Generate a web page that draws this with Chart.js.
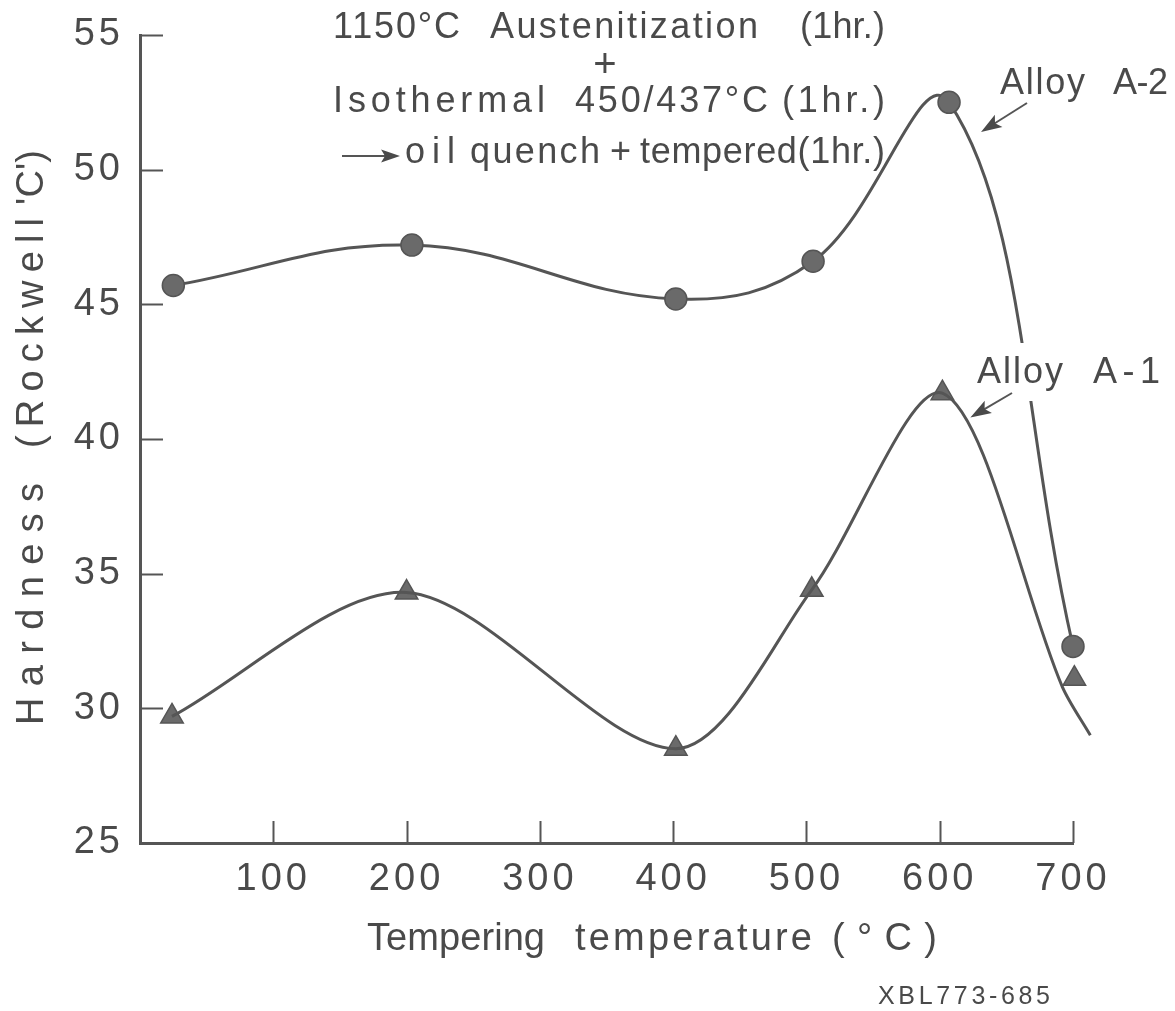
<!DOCTYPE html>
<html>
<head>
<meta charset="utf-8">
<title>Hardness vs tempering temperature</title>
<script src="https://cdn.jsdelivr.net/npm/chart.js@4.4.1/dist/chart.umd.min.js"></script>
<style>
  html, body { margin: 0; padding: 0; background: #fff; }
</style>
</head>
<body>
<canvas id="hardnessChart" width="1175" height="1011"></canvas>
<script>
// Alloy A-2 (circles)
const a2Temps = [25, 204, 402, 505, 607, 700];
const a2Hardness = [45.7, 47.2, 45.2, 46.6, 52.5, 32.3];

// Alloy A-1 (triangles)
const a1Temps = [24, 200, 402, 504, 602, 701];
const a1Hardness = [29.7, 34.3, 28.5, 34.4, 41.7, 31.1];

// the drawn A-1 curve runs a bit under the last triangle and past the axis end
const a1CurveTemps = [24, 200, 402, 504, 602, 692, 713];
const a1CurveHardness = [29.7, 34.3, 28.5, 34.4, 41.7, 30.8, 29.0];

const xTicks = [100, 200, 300, 400, 500, 600, 700];
const yTicks = [25, 30, 35, 40, 45, 50, 55];

const INK = '#4a4a4a';
const LINE = '#555555';
const FONT = "'Liberation Sans', Arial, sans-serif";

const pts = (xs, ys) => xs.map((x, i) => ({ x: x, y: ys[i] }));

// text stretched with letter spacing between x0 and x1
function seg(ctx, text, x0, x1, y, size) {
  ctx.font = size + 'px ' + FONT;
  ctx.letterSpacing = '0px';
  const w = ctx.measureText(text).width;
  const gap = text.length > 1 ? (x1 - x0 - w) / (text.length - 1) : 0;
  ctx.letterSpacing = gap + 'px';
  ctx.textAlign = 'left';
  ctx.textBaseline = 'alphabetic';
  ctx.fillText(text, x0, y);
  ctx.letterSpacing = '0px';
}

function arrow(ctx, x1, y1, x2, y2, head) {
  const a = Math.atan2(y2 - y1, x2 - x1);
  ctx.beginPath();
  ctx.moveTo(x1, y1);
  ctx.lineTo(x2 - Math.cos(a) * head * 0.7, y2 - Math.sin(a) * head * 0.7);
  ctx.stroke();
  ctx.beginPath();
  ctx.moveTo(x2, y2);
  ctx.lineTo(x2 - head * Math.cos(a - 0.33), y2 - head * Math.sin(a - 0.33));
  ctx.lineTo(x2 - head * 0.75 * Math.cos(a), y2 - head * 0.75 * Math.sin(a));
  ctx.lineTo(x2 - head * Math.cos(a + 0.33), y2 - head * Math.sin(a + 0.33));
  ctx.closePath();
  ctx.fill();
}

const inkwork = {
  id: 'inkwork',
  beforeDraw(chart) {
    chart.ctx.letterSpacing = '4px';
  },
  afterDraw(chart) {
    const ctx = chart.ctx;
    const xs = chart.scales.x, ys = chart.scales.y;
    const area = chart.chartArea;
    ctx.save();
    ctx.letterSpacing = '0px';
    ctx.strokeStyle = LINE;
    ctx.fillStyle = INK;
    ctx.lineWidth = 2;

    // tick marks point into the plot
    yTicks.forEach(v => {
      if (v === 25) return;
      const py = Math.round(ys.getPixelForValue(v)) + 0.5;
      ctx.beginPath(); ctx.moveTo(area.left, py); ctx.lineTo(area.left + 23, py); ctx.stroke();
    });
    xTicks.forEach(v => {
      const px = Math.round(xs.getPixelForValue(v)) + 0.5;
      ctx.beginPath(); ctx.moveTo(px, area.bottom); ctx.lineTo(px, area.bottom - 22); ctx.stroke();
    });

    // heat treatment note
    seg(ctx, '1150°C', 333, 460, 38, 36);
    seg(ctx, 'Austenitization', 490, 758, 38, 36);
    seg(ctx, '(1hr.)', 800, 885, 38, 36);
    ctx.font = '40px ' + FONT; ctx.textAlign = 'center';
    ctx.fillText('+', 605, 77);
    seg(ctx, 'Isothermal', 333, 545, 112, 36);
    seg(ctx, '450/437°C', 575, 768, 112, 36);
    seg(ctx, '(1hr.)', 782, 885, 112, 36);
    arrow(ctx, 342, 156, 400, 156, 20);
    seg(ctx, 'oil', 405, 455, 163, 36);
    seg(ctx, 'quench', 470, 600, 163, 36);
    seg(ctx, '+', 610, 632, 163, 36);
    seg(ctx, 'tempered(1hr.)', 640, 885, 163, 36);

    // alloy labels; the A-1 label sits on a white patch that breaks the A-2 line
    ctx.fillStyle = '#ffffff';
    ctx.fillRect(972, 343, 195, 58);
    ctx.fillStyle = INK;
    seg(ctx, 'Alloy', 1000, 1085, 94, 36);
    seg(ctx, 'A-2', 1113, 1168, 94, 36);
    seg(ctx, 'Alloy', 977, 1063, 383, 36);
    seg(ctx, 'A-1', 1093, 1160, 383, 36);
    ctx.lineWidth = 2;
    arrow(ctx, 1027, 103, xs.getPixelForValue(631), ys.getPixelForValue(51.4), 22);
    arrow(ctx, 1012, 393, xs.getPixelForValue(623), ys.getPixelForValue(40.8), 22);

    // axis titles
    seg(ctx, 'Tempering', 367, 545, 950, 38);
    seg(ctx, 'temperature', 575, 812, 950, 38);
    seg(ctx, '(°C)', 832, 937, 950, 38);
    ctx.save();
    ctx.translate(43, 725);
    ctx.rotate(-Math.PI / 2);
    seg(ctx, 'Hardness', 0, 242, 0, 38);
    seg(ctx, '(Rockwell', 277, 507, 0, 38);
    seg(ctx, "'C')", 520, 575, 0, 38);
    ctx.restore();

    seg(ctx, 'XBL773-685', 878, 1050, 1004, 25);
    ctx.restore();
  }
};

const ctx = document.getElementById('hardnessChart').getContext('2d');
const hardnessChart = new Chart(ctx, {
  type: 'line',
  data: {
    datasets: [{
      label: 'Alloy A-2',
      data: pts(a2Temps, a2Hardness),
      borderColor: LINE,
      borderWidth: 3,
      tension: 0.4,
      pointStyle: 'circle',
      pointRadius: 11,
      pointBackgroundColor: '#6a6a6a',
      pointBorderColor: '#555',
      pointBorderWidth: 1.5,
      clip: false
    }, {
      label: 'Alloy A-1 curve',
      data: pts(a1CurveTemps, a1CurveHardness),
      borderColor: LINE,
      borderWidth: 3,
      tension: 0.3,
      pointRadius: 0,
      clip: false
    }, {
      label: 'Alloy A-1',
      data: pts(a1Temps, a1Hardness),
      showLine: false,
      pointStyle: 'triangle',
      pointRadius: 13,
      pointBackgroundColor: '#6a6a6a',
      pointBorderColor: '#555',
      pointBorderWidth: 1.5,
      clip: false
    }]
  },
  options: {
    responsive: false,
    animation: false,
    devicePixelRatio: 1,
    layout: { padding: { top: 35, right: 102, bottom: 0, left: 0 } },
    plugins: { legend: { display: false }, tooltip: { enabled: false } },
    scales: {
      x: {
        type: 'linear',
        min: 0,
        max: 700,
        afterBuildTicks: s => { s.ticks = xTicks.map(v => ({ value: v })); },
        afterFit: s => { s.height = 168; },
        grid: { display: false },
        border: { color: LINE, width: 3 },
        ticks: { color: INK, font: { family: FONT, size: 38 }, padding: 6, maxRotation: 0 }
      },
      y: {
        min: 25,
        max: 55,
        afterBuildTicks: s => { s.ticks = yTicks.map(v => ({ value: v })); },
        afterFit: s => { s.width = 140; },
        grid: { display: false },
        border: { color: LINE, width: 3 },
        ticks: { color: INK, font: { family: FONT, size: 38 }, padding: 8 }
      }
    }
  },
  plugins: [inkwork]
});
</script>
</body>
</html>
